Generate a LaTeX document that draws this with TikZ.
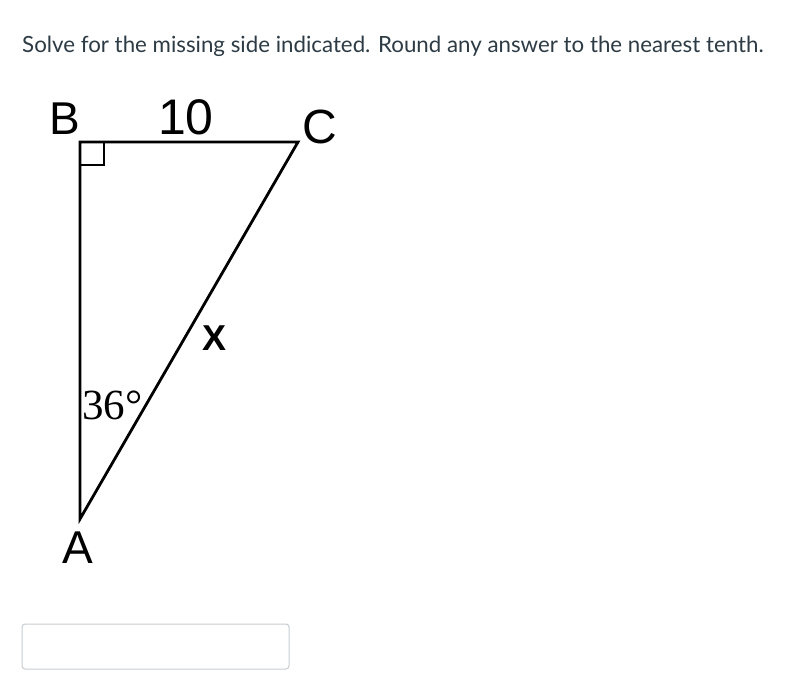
\documentclass[tikz,border=0pt]{standalone}
\usepackage{fontspec}
\usepackage{graphicx}
\setmainfont{Liberation Sans}
\newfontfamily\latofont{Lato}
\newfontfamily\serifont{Liberation Serif}
\definecolor{headtext}{HTML}{2D3B45}
\definecolor{boxborder}{HTML}{C7CDD1}
\tikzset{
  lbl/.style={inner sep=0pt, anchor=base, text=black},
  side/.style={line width=2.8pt, line join=miter, black},
  ansbox/.style={draw=boxborder, line width=1pt, rounded corners=3pt, fill=white}
}
\begin{document}
\begin{tikzpicture}[x=1pt,y=-1pt]
\useasboundingbox (0,0) rectangle (789,695);
\fill[white] (0,0) rectangle (789,695);
% heading
\node[inner sep=0pt, anchor=base west, text=headtext, font=\latofont\fontsize{22.3}{27}\selectfont] (head) at (22,53) {Solve for the missing side indicated. Round any answer to the nearest tenth.};
% triangle vertices
\coordinate (B) at (80,142);
\coordinate (C) at (298,142);
\coordinate (A) at (80,519);
\draw[side] (C) -- (B) -- (A) -- cycle;
% right angle marker
\draw[line width=2.4pt] (80,165) -| (104,142);
% labels
\node[lbl, font=\fontsize{46}{50}\selectfont] (lB) at (65,135) {B};
\node[lbl, font=\fontsize{50}{54}\selectfont] (l10) at (186,135) {10};
\node[lbl, font=\fontsize{48}{52}\selectfont] (lC) at (320,144) {C};
\node[lbl, font=\fontsize{46}{50}\selectfont] (lA) at (78,563) {A};
\node[lbl, font=\bfseries\fontsize{36}{40}\selectfont] (lX) at (214.5,350) {X};
\node[inner sep=0pt, anchor=base west, font=\serifont\fontsize{43}{46}\selectfont] (ang) at (82,419) {36°};
% answer box
\draw[ansbox] (22,624) rectangle (289,669);
\end{tikzpicture}
\end{document}
